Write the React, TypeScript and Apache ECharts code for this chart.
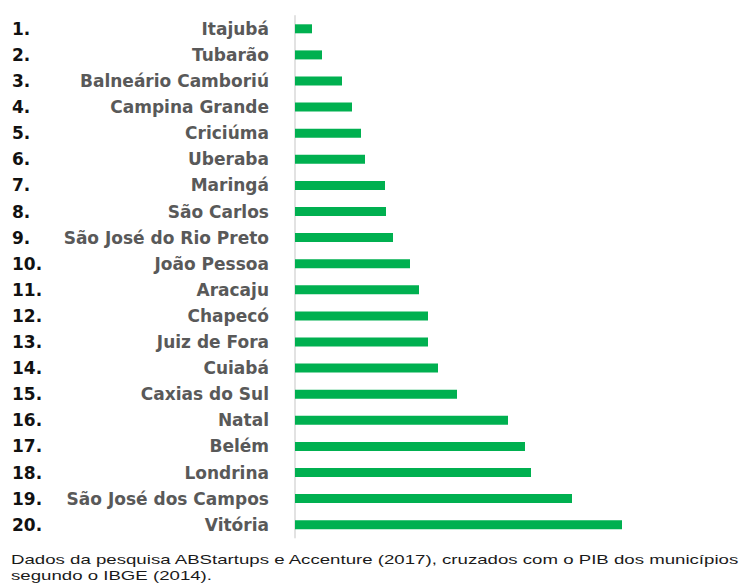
import React, { useEffect, useRef } from "react";
import * as echarts from "echarts";

const ranks = ["1.", "2.", "3.", "4.", "5.", "6.", "7.", "8.", "9.", "10.", "11.", "12.", "13.", "14.", "15.", "16.", "17.", "18.", "19.", "20."];
const cities = [
  "Itajubá", "Tubarão", "Balneário Camboriú", "Campina Grande", "Criciúma", "Uberaba", "Maringá", "São Carlos",
  "São José do Rio Preto", "João Pessoa", "Aracaju", "Chapecó", "Juiz de Fora", "Cuiabá", "Caxias do Sul",
  "Natal", "Belém", "Londrina", "São José dos Campos", "Vitória",
];
const values = [17, 27, 47, 57, 66, 70, 90, 91, 98, 115, 124, 133, 133, 143, 162, 213, 230, 236, 277, 327];
const footnote1 = "Dados da pesquisa ABStartups e Accenture (2017), cruzados com o PIB dos municípios";
const footnote2 = "segundo o IBGE (2014).";

export default function App() {
  const ref = useRef<HTMLDivElement>(null);
  useEffect(() => {
    const chart = echarts.init(ref.current!, null, { renderer: "svg" });
    chart.setOption({
      animation: false,
      backgroundColor: "#ffffff",
      grid: { left: 295, top: 15.75, width: 400, height: 522 },
      xAxis: {
        type: "value", min: 0, max: 400, show: false,
      },
      yAxis: [
        {
          type: "category", data: cities, inverse: true,
          axisLine: { show: true, lineStyle: { color: "#d9d9d9", width: 1.5 } },
          axisTick: { show: false },
          axisLabel: {
            margin: 26, color: "#595959", fontFamily: "DejaVu Sans", fontWeight: "bold", fontSize: 17,
          },
        },
        {
          type: "category", data: ranks, inverse: true, position: "left",
          axisLine: { show: false }, axisTick: { show: false },
          axisLabel: {
            margin: 283, align: "left", color: "#111111", fontFamily: "DejaVu Sans", fontWeight: "bold", fontSize: 17,
          },
        },
      ],
      series: [
        {
          type: "bar", data: values, barWidth: 9, yAxisIndex: 0,
          itemStyle: { color: "#00b050" },
        },
      ],
      graphic: [
        {
          type: "text", x: 11, y: 553, scaleX: 1.435,
          style: { text: footnote1, fontFamily: "Liberation Sans", fontSize: 13, fill: "#1a1a1a" },
        },
        {
          type: "text", x: 11, y: 569, scaleX: 1.435,
          style: { text: footnote2, fontFamily: "Liberation Sans", fontSize: 13, fill: "#1a1a1a" },
        },
      ],
    });
    return () => chart.dispose();
  }, []);
  return <div ref={ref} style={{ width: 740, height: 585, position: "absolute", left: 0, top: 0 }} />;
}
